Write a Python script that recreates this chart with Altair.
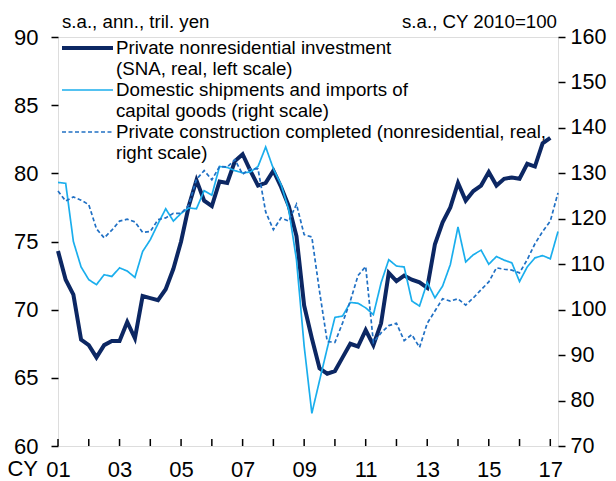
import altair as alt
import pandas as pd

# Quarterly data, CY2001 Q1 onward
start_year = 2001
# Private nonresidential investment (SNA, real, left scale), tril. yen -- 2001Q1..2017Q1
sna_invest = [
    74.3, 72.2, 71.1, 67.8, 67.4, 66.5, 67.4, 67.7, 67.7, 69.1,
    67.9, 71.0, 70.85, 70.7, 71.5, 73.0, 75.0, 77.6, 79.5, 78.0,
    77.6, 79.4, 79.3, 80.9, 81.4, 80.2, 79.1, 79.3, 80.2, 79.0,
    77.6, 75.4, 70.3, 67.9, 65.7, 65.3, 65.5, 66.5, 67.5, 67.3,
    68.5, 67.4, 69.0, 72.7, 72.1, 72.5, 72.2, 72.0, 71.6, 74.8,
    76.4, 77.5, 79.3, 78.0, 78.7, 79.1, 80.1, 79.1, 79.6, 79.7,
    79.6, 80.7, 80.5, 82.2, 82.6,
]
# Domestic shipments and imports of capital goods (right scale) -- 2001Q1..2017Q2
shipments = [
    128.0, 127.8, 115.0, 109.4, 106.6, 105.5, 107.7, 107.3, 109.2, 108.5,
    107.1, 112.8, 115.4, 118.9, 122.2, 119.5, 121.2, 122.4, 122.2, 126.2,
    125.2, 131.5, 131.3, 130.6, 130.1, 130.3, 131.5, 135.8, 131.0, 127.5,
    122.0, 111.0, 92.0, 77.2, 84.4, 91.5, 98.3, 98.6, 101.6, 101.4,
    100.4, 98.9, 105.9, 111.0, 109.6, 109.4, 101.9, 100.8, 106.0, 102.6,
    105.2, 109.9, 118.2, 110.5, 112.1, 113.1, 110.0, 111.7, 110.9, 110.3,
    106.2, 109.4, 111.4, 111.9, 111.2, 117.2,
]
# Private construction completed (nonresidential, real, right scale) -- 2001Q1..2017Q2
construction = [
    126.1, 123.9, 124.8, 124.1, 123.1, 117.8, 115.8, 117.5, 119.5, 119.9,
    119.3, 117.0, 117.2, 119.8, 120.2, 121.2, 121.2, 123.0, 128.7, 130.6,
    128.6, 131.5, 131.4, 133.0, 129.8, 131.0, 131.0, 121.5, 117.6, 120.2,
    119.5, 123.2, 116.5, 116.0, 104.0, 93.0, 92.8, 97.1, 101.9, 107.5,
    109.5, 92.8, 94.9, 96.5, 97.0, 93.2, 94.5, 91.7, 97.0, 99.7,
    102.4, 101.9, 102.4, 101.0, 102.6, 104.4, 106.1, 109.2, 108.9, 108.7,
    108.1, 111.0, 114.5, 117.2, 119.5, 125.7,
]

series_names = [
    "Domestic shipments and imports of capital goods",
    "Private construction completed",
]
legend_lines = [
    ["Private nonresidential investment", "(SNA, real, left scale)"],
    ["Domestic shipments and imports of", "capital goods (right scale)"],
    ["Private construction completed (nonresidential, real,", "right scale)"],
]
tick_years = list(range(2001, 2018))
left_ticks = [60, 65, 70, 75, 80, 85, 90]
right_ticks = [70, 80, 90, 100, 110, 120, 130, 140, 150, 160]

NAVY = "#0c2763"
LIGHT = "#1aaeed"
MID = "#2070c4"
FONT = "Liberation Sans"
TICKFS = 22
TEXTFS = 18.7

def qtime(n):
    return [start_year + i / 4 for i in range(n)]

df_left = pd.DataFrame({"t": qtime(len(sna_invest)), "v": sna_invest})
df_right = pd.concat([
    pd.DataFrame({"t": qtime(len(shipments)), "v": shipments, "s": series_names[0]}),
    pd.DataFrame({"t": qtime(len(construction)), "v": construction, "s": series_names[1]}),
])
df_ticks = pd.DataFrame({"t": tick_years})

W, H = 500, 409

x_enc = alt.X(
    "t:Q",
    scale=alt.Scale(domain=[2001, 2017.25], nice=False, zero=False),
    axis=alt.Axis(
        values=tick_years,
        labelExpr="datum.value % 2 == 1 ? ((datum.value - 2000) < 10 ? '0' + (datum.value - 2000) : '' + (datum.value - 2000)) : ''",
        ticks=False, tickSize=0, grid=False, domain=False,
        labelFontSize=TICKFS, labelPadding=13, labelColor="black", labelFont=FONT,
        labelFlush=False, labelOverlap=False, title=None,
    ),
)

left = alt.Chart(df_left).mark_line(color=NAVY, strokeWidth=4, strokeJoin="miter").encode(
    x=x_enc,
    y=alt.Y(
        "v:Q",
        scale=alt.Scale(domain=[60, 90], nice=False, zero=False),
        axis=alt.Axis(
            orient="left", values=left_ticks, grid=False, tickSize=7, tickWidth=1.5,
            tickColor="black", domain=False,
            labelFontSize=TICKFS, labelPadding=13, labelColor="black", labelFont=FONT,
            title=None,
        ),
    ),
)

right = alt.Chart(df_right).mark_line(strokeWidth=1.7).encode(
    x=x_enc,
    y=alt.Y(
        "v:Q",
        scale=alt.Scale(domain=[70, 160], nice=False, zero=False),
        axis=alt.Axis(
            orient="right", values=right_ticks, grid=False, tickSize=7, tickWidth=1.5,
            tickColor="black", domain=False,
            labelFontSize=21.5, labelPadding=5, labelColor="black", labelFont=FONT,
            title=None,
        ),
    ),
    color=alt.Color("s:N", scale=alt.Scale(domain=series_names, range=[LIGHT, MID]), legend=None),
    strokeDash=alt.StrokeDash("s:N", scale=alt.Scale(domain=series_names, range=[[1, 0], [4, 2.5]]), legend=None),
    detail="s:N",
)

xticks = alt.Chart(df_ticks).mark_rule(color="black", strokeWidth=1.5).encode(
    x=x_enc, y=alt.value(H - 7), y2=alt.value(H)
)

layers = [left, right, xticks]

# "CY" prefix for the first year label
layers.append(
    alt.Chart(pd.DataFrame({"a": [0]})).mark_text(
        text="CY", align="right", baseline="top", fontSize=TICKFS, font=FONT, color="black"
    ).encode(x=alt.value(-20), y=alt.value(H + 13))
)
# unit notes above the plot
layers.append(
    alt.Chart(pd.DataFrame({"a": [0]})).mark_text(
        text="s.a., ann., tril. yen", align="left", baseline="middle", fontSize=TEXTFS, font=FONT, color="black"
    ).encode(x=alt.value(4), y=alt.value(-15))
)
layers.append(
    alt.Chart(pd.DataFrame({"a": [0]})).mark_text(
        text="s.a., CY 2010=100", align="right", baseline="middle", fontSize=TEXTFS, font=FONT, color="black"
    ).encode(x=alt.value(W - 1), y=alt.value(-15))
)

# manual legend
row_y = [11, 32, 53, 74, 95, 116]
sym_styles = [
    dict(color=NAVY, strokeWidth=4),
    dict(color=LIGHT, strokeWidth=1.7),
    dict(color=MID, strokeWidth=1.7, strokeDash=[4, 2.5]),
]
for k, lines in enumerate(legend_lines):
    y0 = row_y[2 * k]
    layers.append(
        alt.Chart(pd.DataFrame({"a": [0]})).mark_rule(**sym_styles[k]).encode(
            x=alt.value(4), x2=alt.value(55), y=alt.value(y0)
        )
    )
    for j, line in enumerate(lines):
        layers.append(
            alt.Chart(pd.DataFrame({"a": [0]})).mark_text(
                text=line, align="left", baseline="middle", fontSize=TEXTFS, font=FONT, color="black"
            ).encode(x=alt.value(58), y=alt.value(row_y[2 * k + j]))
        )

chart = alt.layer(*layers).resolve_scale(y="independent").properties(
    width=W, height=H,
    autosize=alt.AutoSizeParams(type="none"),
    padding={"left": 50, "top": 29, "right": 50, "bottom": 35},
).configure_view(stroke="black", strokeWidth=2).configure(font=FONT)

chart.save("out.html", embed_options={"renderer": "svg", "actions": False})
